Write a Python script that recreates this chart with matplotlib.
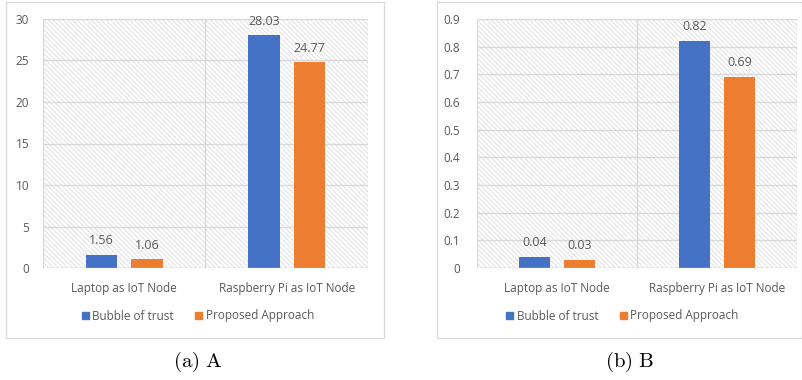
import matplotlib
matplotlib.use("Agg")
import matplotlib.pyplot as plt
from matplotlib.patches import Rectangle, Patch
import numpy as np

categories = ["Laptop as IoT Node", "Raspberry Pi as IoT Node"]
series_names = ["Bubble of trust", "Proposed Approach"]
a_bubble = [1.56, 28.03]
a_proposed = [1.06, 24.77]
b_bubble = [0.04, 0.82]
b_proposed = [0.03, 0.69]
a_labels = [["1.56", "28.03"], ["1.06", "24.77"]]
b_labels = [["0.04", "0.82"], ["0.03", "0.69"]]
a_ticks = [0, 5, 10, 15, 20, 25, 30]
b_ticks = [0, 0.1, 0.2, 0.3, 0.4, 0.5, 0.6, 0.7, 0.8, 0.9]
b_ticklabels = ["0", "0.1", "0.2", "0.3", "0.4", "0.5", "0.6", "0.7", "0.8", "0.9"]

BLUE = "#4472C4"
ORANGE = "#ED7D31"
TXT = "#595959"
GRID = "#d9d9d9"
FS = 8.5

plt.rcParams["font.family"] = ["Open Sans", "DejaVu Sans"]
plt.rcParams["hatch.linewidth"] = 0.6
plt.rcParams["hatch.color"] = "#dcdcdc"
plt.rcParams["mathtext.fontset"] = "cm"

W, H = 803, 380
fig = plt.figure(figsize=(W / 100, H / 100), dpi=100)

def fx(px):
    return px / W

def fy(py):
    return 1 - py / H

def panel(box, plot, s1, s2, labels, ticks, ticklabels, ymax, caption, cap_x, tickpad):
    bx0, by0, bx1, by1 = box
    fig.patches.append(Rectangle((fx(bx0), fy(by1)), fx(bx1 - bx0), (by1 - by0) / H,
                                 transform=fig.transFigure, fill=False,
                                 edgecolor="#d9d9d9", linewidth=1.0))
    px0, py0, px1, py1 = plot
    ax = fig.add_axes([fx(px0), fy(py1), fx(px1 - px0), (py1 - py0) / H])
    ax.set_xlim(-0.5, 1.5)
    ax.set_ylim(0, ymax)
    ax.add_patch(Rectangle((-0.5, 0), 2, ymax, facecolor="white", hatch="\\\\\\\\\\\\\\",
                           edgecolor="#dcdcdc", linewidth=0, zorder=0))
    for t in ticks[1:]:
        ax.axhline(t, color=GRID, linewidth=1.0, zorder=1)
    for xv in [-0.5, 0.5, 1.5]:
        ax.axvline(xv, color=GRID, linewidth=1.0, zorder=1)
    ax.axhline(0, color="#bfbfbf", linewidth=1.0, zorder=3)
    x = np.arange(len(categories))
    off, bw = 0.14, 0.195
    for vals, col, labs in [(s1, BLUE, labels[0]), (s2, ORANGE, labels[1])]:
        pos = x - off if col == BLUE else x + off
        bars = ax.bar(pos, vals, bw, color=col, zorder=2)
        for b, lab in zip(bars, labs):
            ax.annotate(lab, (b.get_x() + b.get_width() / 2, b.get_height()),
                        xytext=(0, 5.5), textcoords="offset points", ha="center",
                        va="bottom", fontsize=9, color=TXT)
    for s in ax.spines.values():
        s.set_visible(False)
    ax.set_yticks(ticks)
    ax.set_yticklabels(ticklabels)
    ax.set_xticks(x)
    ax.set_xticklabels(categories)
    ax.tick_params(axis="y", length=0, pad=tickpad, labelsize=FS, labelcolor=TXT)
    ax.tick_params(axis="x", length=0, pad=10, labelsize=FS, labelcolor=TXT)
    handles = [Patch(color=BLUE, label=series_names[0]),
               Patch(color=ORANGE, label=series_names[1])]
    fig.legend(handles=handles, loc="center", ncol=2, frameon=False,
               bbox_to_anchor=(fx((bx0 + bx1) / 2 + 3), fy(316)), fontsize=FS,
               labelcolor=TXT, handlelength=0.6, handleheight=0.6,
               handletextpad=0.3, columnspacing=1.8)
    fig.text(fx(cap_x), fy(362), caption, ha="center", va="center", fontsize=15)
    return ax

panel((6, 2, 384, 338), (43, 19, 368, 268), a_bubble, a_proposed, a_labels,
      a_ticks, [str(t) for t in a_ticks], 30, r"$\mathrm{(a)\ A}$", 198, 10)
panel((437, 2, 802, 338), (477, 19, 797, 268), b_bubble, b_proposed, b_labels,
      b_ticks, b_ticklabels, 0.9, r"$\mathrm{(b)\ B}$", 630, 12)

fig.savefig("out.png", dpi=100)
